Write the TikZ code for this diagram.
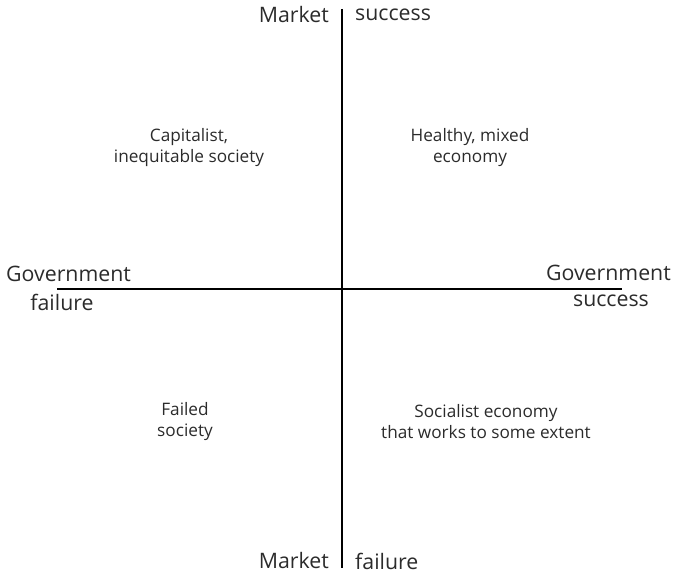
\documentclass[tikz,border=0pt]{standalone}
\usepackage{fontspec}
\setmainfont{Open Sans}
\usetikzlibrary{positioning}

\definecolor{txtgray}{HTML}{2B2B2B}
\tikzset{
  axislabel/.style={text=txtgray, font=\fontsize{21.3}{24}\selectfont, inner sep=0pt},
  quadtext/.style={text=txtgray, font=\fontsize{17.2}{21}\selectfont, align=center, inner sep=0pt},
  axisline/.style={line width=1.3pt, black}
}

\begin{document}
\begin{tikzpicture}[x=1pt,y=-1pt]
  \useasboundingbox (0,0) rectangle (675,575);
  % axes
  \coordinate (top) at (342,9);
  \coordinate (bot) at (342,568);
  \coordinate (left) at (57,289);
  \coordinate (right) at (622,289);
  \draw[axisline] (top) -- (bot);
  \draw[axisline] (left) -- (right);

  % axis labels
  \node[axislabel, anchor=east] (mkt_top) at (329,15) {Market};
  \node[axislabel, anchor=west] (succ_top) at (355,15) {success};
  \node[axislabel, anchor=east] (mkt_bot) at (329,561) {Market};
  \node[axislabel, anchor=west] (fail_bot) at (355,561) {failure};
  \node[axislabel, anchor=west] (gov_left) at (6,274) {Government};
  \node[axislabel] (fail_left) at (62,302) {failure};
  \node[axislabel, anchor=east] (gov_right) at (671,273) {Government};
  \node[axislabel] (succ_right) at (611,301) {success};

  % quadrants
  \node[quadtext] (q_nw) at (189,148) {Capitalist,\\inequitable society};
  \node[quadtext] (q_ne) at (470,148) {Healthy, mixed\\economy};
  \node[quadtext] (q_sw) at (185,422) {Failed\\society};
  \node[quadtext] (q_se) at (486,422) {Socialist economy\\that works to some extent};
\end{tikzpicture}
\end{document}
